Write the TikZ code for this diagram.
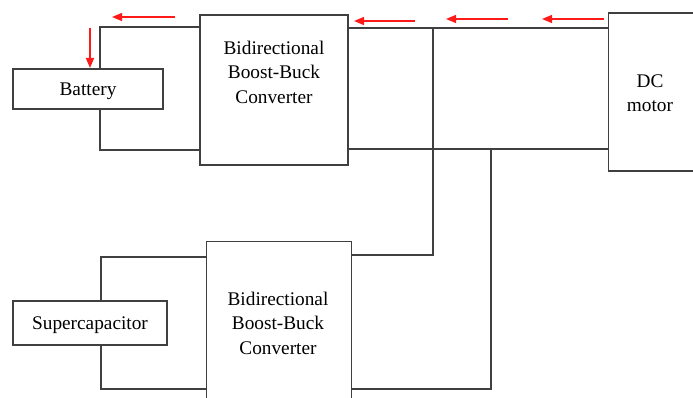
\documentclass[tikz,border=0pt]{standalone}
\usepackage{fontspec}
\setmainfont{Liberation Serif}
\usetikzlibrary{arrows.meta}
\definecolor{wirecol}{HTML}{404040}
\definecolor{flowred}{HTML}{FF1A1A}
\begin{document}
\begin{tikzpicture}[x=1pt,y=-1pt,
  font=\fontsize{19.3}{24.5}\selectfont,
  blk/.style={draw=wirecol,line width=1.4pt,rectangle,inner sep=0pt},
  txt/.style={align=center,inner sep=0pt},
  wire/.style={draw=wirecol,line width=1.4pt},
  flow/.style={draw=flowred,line width=1.4pt,-{Triangle[length=10pt,width=8pt]}}]
\useasboundingbox (0,0) rectangle (693,398);

% blocks
\node[blk,minimum width=150,minimum height=40] (bat) at (88,89) {};
\node[txt] (batt) at (88,91) {Battery};
\node[blk,minimum width=148,minimum height=150] (c1) at (274,90) {};
\node[txt] (c1t) at (274,72) {Bidirectional\\Boost-Buck\\Converter};
\node[blk,minimum width=100,minimum height=158,anchor=north west] (dc) at (607.5,12.5) {};
\node[txt] (dct) at (650,93) {DC\\motor};
\node[blk,minimum width=154,minimum height=44] (sc) at (90,323) {};
\node[txt] (sct) at (90,325) {Supercapacitor};
\node[blk,minimum width=145,minimum height=170,anchor=north west] (c2) at (205.5,240.5) {};
\node[txt] (c2t) at (278,323) {Bidirectional\\Boost-Buck\\Converter};

% junction points
\coordinate (bt) at (100,27);
\coordinate (bb) at (100,150);
\coordinate (st) at (101,257);
\coordinate (sb) at (101,389);
\coordinate (ja) at (433,28);
\coordinate (jb) at (491,149);
\coordinate (ka) at (433,255);
\coordinate (kb) at (491,389);

% battery side wiring
\draw[wire] (bat.north -| bt) -- (bt) -- (bt -| c1.west);
\draw[wire] (bat.south -| bb) -- (bb) -- (bb -| c1.west);

% supercapacitor side wiring
\draw[wire] (sc.north -| st) -- (st) -- (st -| c2.west);
\draw[wire] (sc.south -| sb) -- (sb) -- (sb -| c2.west);

% DC bus to the motor
\draw[wire] (c1.east |- ja) -- (dc.west |- ja);
\draw[wire] (c1.east |- jb) -- (dc.west |- jb);

% branches to the second converter
\draw[wire] (ja) -- (ka) -- (ka -| c2.east);
\draw[wire] (jb) -- (kb) -- (kb -| c2.east);

% power flow arrows
\coordinate (f1s) at (175,17);
\coordinate (f1e) at (112,17);
\coordinate (f2s) at (90,28);
\coordinate (f2e) at (90,68);
\coordinate (f3s) at (415,21);
\coordinate (f3e) at (354,21);
\coordinate (f4s) at (508,19);
\coordinate (f4e) at (446,19);
\coordinate (f5s) at (604,19);
\coordinate (f5e) at (542,19);
\draw[flow] (f1s) -- (f1e);
\draw[flow] (f2s) -- (f2e);
\draw[flow] (f3s) -- (f3e);
\draw[flow] (f4s) -- (f4e);
\draw[flow] (f5s) -- (f5e);
\end{tikzpicture}
\end{document}
